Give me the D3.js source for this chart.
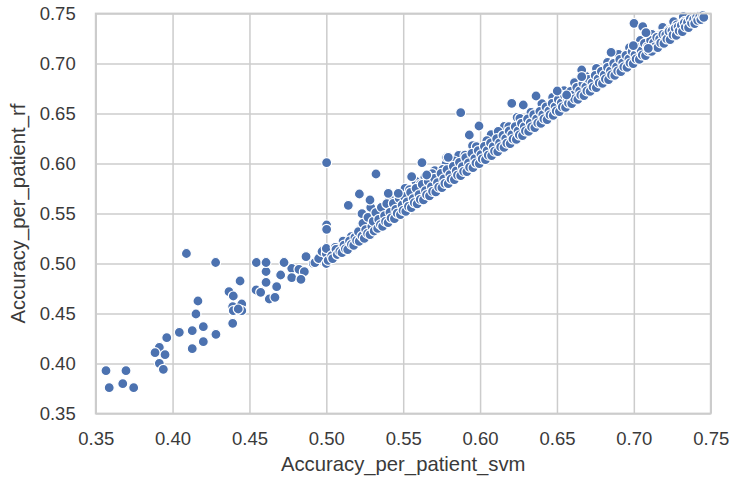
<!DOCTYPE html>
<html>
<head>
<meta charset="utf-8">
<script src="https://cdn.jsdelivr.net/npm/d3@7"></script>
<style>
  html, body { margin: 0; padding: 0; background: #ffffff; }
  svg { display: block; }
</style>
</head>
<body>
<svg id="chart" width="730" height="478"></svg>
<script>
// ---- Data (svm accuracy, rf accuracy) ----
const xTicks = [0.35, 0.40, 0.45, 0.50, 0.55, 0.60, 0.65, 0.70, 0.75];
const yTicks = [0.35, 0.40, 0.45, 0.50, 0.55, 0.60, 0.65, 0.70, 0.75];
const xLabel = "Accuracy_per_patient_svm";
const yLabel = "Accuracy_per_patient_rf";

const lowCluster = [
  [0.3567,0.3928],[0.3697,0.3928],[0.3588,0.3758],[0.3676,0.3798],[0.3747,0.3758],
  [0.3914,0.4002],[0.3940,0.3942],[0.3914,0.4162],[0.3886,0.4108],[0.3951,0.4088],
  [0.3962,0.4258],[0.4044,0.4312],[0.4128,0.4328],[0.4200,0.4368],[0.4128,0.4148],
  [0.4200,0.4218],[0.4282,0.4292],[0.4152,0.4495],[0.4165,0.4625],[0.4391,0.4402],
  [0.4391,0.4568],[0.4450,0.4595],[0.4395,0.4528],[0.4450,0.4528],[0.4427,0.4545],
  [0.4367,0.4718],[0.4395,0.4675],[0.4439,0.4825],[0.4543,0.4735],[0.4573,0.4712],
  [0.4629,0.4645],[0.4666,0.4662],[0.4608,0.4812],[0.4677,0.4768],[0.4608,0.4920],
  [0.4703,0.4885],[0.4775,0.4952],[0.4822,0.4942],[0.4857,0.4918],[0.4775,0.4858],
  [0.4835,0.4842],[0.4545,0.5010],[0.4608,0.5010],[0.4725,0.5010],[0.4868,0.5070],
  [0.4915,0.5002],[0.4926,0.5008],[0.4868,0.5068],[0.4090,0.5100],[0.4280,0.5010],
  [0.4950,0.5050],[0.4972,0.5120],[0.5000,0.5000],[0.5000,0.5100],[0.5000,0.5150]
];

const outliers = [
  [0.5002,0.6008],[0.5323,0.5895],[0.5622,0.6008],[0.5143,0.5582],[0.5215,0.5695],
  [0.5002,0.5385],[0.5002,0.5342],[0.5874,0.6508],[0.5993,0.6375],[0.5930,0.6285],
  [0.6206,0.6602],[0.6281,0.6585],[0.6364,0.6675],[0.6502,0.6725],[0.6563,0.6685],
  [0.6852,0.7112],[0.6661,0.6935],[0.6661,0.6868],[0.7001,0.7402],[0.7058,0.7368],
  [0.7079,0.7308],[0.6997,0.7178],[0.7094,0.7152],[0.5783,0.6062],[0.5793,0.6062],
  [0.5555,0.5868],[0.5653,0.5885],[0.5403,0.5702],[0.5468,0.5702],[0.5284,0.5635]
];

const band = [
  [0.5012,0.5031],[0.5035,0.5078],[0.5041,0.5049],[0.5063,0.5142],[0.5071,0.5090],[0.5088,0.5121],
  [0.5102,0.5108],[0.5115,0.5183],[0.5124,0.5147],[0.5139,0.5139],[0.5151,0.5226],[0.5163,0.5192],
  [0.5178,0.5181],[0.5186,0.5262],[0.5197,0.5231],[0.5209,0.5318],[0.5214,0.5222],[0.5232,0.5275],
  [0.5238,0.5402],[0.5247,0.5251],[0.5256,0.5339],[0.5268,0.5301],[0.5271,0.5462],[0.5284,0.5289],
  [0.5296,0.5372],[0.5305,0.5421],[0.5311,0.5325],[0.5322,0.5508],[0.5334,0.5351],[0.5341,0.5441],
  [0.5352,0.5389],[0.5358,0.5562],[0.5366,0.5372],[0.5379,0.5478],[0.5385,0.5421],[0.5393,0.5598],
  [0.5402,0.5409],[0.5414,0.5512],[0.5421,0.5455],[0.5436,0.5601],[0.5443,0.5448],[0.5452,0.5541],
  [0.5461,0.5503],[0.5474,0.5652],[0.5482,0.5489],[0.5493,0.5585],[0.5499,0.5531],[0.5508,0.5668],
  [0.5517,0.5521],[0.5526,0.5617],[0.5534,0.5572],[0.5548,0.5712],[0.5553,0.5559],[0.5565,0.5649],
  [0.5572,0.5608],[0.5584,0.5752],[0.5591,0.5597],[0.5603,0.5689],[0.5611,0.5642],[0.5624,0.5791],
  [0.5632,0.5636],[0.5645,0.5728],[0.5652,0.5688],[0.5663,0.5821],[0.5671,0.5677],[0.5684,0.5768],
  [0.5691,0.5722],[0.5703,0.5852],[0.5712,0.5716],[0.5723,0.5809],[0.5731,0.5764],[0.5746,0.5901],
  [0.5752,0.5758],[0.5764,0.5846],[0.5771,0.5802],[0.5785,0.5938],[0.5793,0.5798],[0.5804,0.5888],
  [0.5811,0.5845],[0.5826,0.5972],[0.5833,0.5839],[0.5845,0.5926],[0.5853,0.5884],[0.5866,0.6012],
  [0.5874,0.5878],[0.5885,0.5969],[0.5893,0.5922],[0.5907,0.6059],[0.5914,0.5919],[0.5925,0.6006],
  [0.5932,0.5963],[0.5947,0.6101],[0.5954,0.5958],[0.5966,0.6048],[0.5973,0.6005],[0.5988,0.6129],
  [0.5995,0.5999],[0.6006,0.6088],[0.6014,0.6046],[0.6028,0.6172],[0.6035,0.6039],[0.6046,0.6128],
  [0.6053,0.6084],[0.6068,0.6205],[0.6075,0.6079],[0.6086,0.6168],[0.6094,0.6124],[0.6108,0.6248],
  [0.6115,0.6119],[0.6127,0.6206],[0.6134,0.6166],[0.6149,0.6282],[0.6156,0.6161],[0.6167,0.6249],
  [0.6174,0.6204],[0.6189,0.6325],[0.6196,0.6199],[0.6207,0.6289],[0.6214,0.6245],[0.6229,0.6368],
  [0.6236,0.6241],[0.6247,0.6326],[0.6255,0.6285],[0.6269,0.6402],[0.6276,0.6279],[0.6288,0.6368],
  [0.6295,0.6326],[0.6309,0.6445],[0.6316,0.6321],[0.6327,0.6407],[0.6335,0.6366],[0.6349,0.6488],
  [0.6356,0.6359],[0.6368,0.6447],[0.6375,0.6405],[0.6389,0.6522],[0.6396,0.6401],[0.6408,0.6488],
  [0.6415,0.6446],[0.6429,0.6565],[0.6436,0.6439],[0.6448,0.6527],[0.6455,0.6486],[0.6469,0.6602],
  [0.6476,0.6481],[0.6488,0.6566],[0.6495,0.6525],[0.6509,0.6641],[0.6516,0.6519],[0.6528,0.6607],
  [0.6535,0.6566],[0.6549,0.6682],[0.6556,0.6561],[0.6568,0.6646],[0.6575,0.6605],[0.6589,0.6721],
  [0.6596,0.6599],[0.6608,0.6687],[0.6615,0.6646],[0.6629,0.6762],[0.6636,0.6641],[0.6648,0.6726],
  [0.6655,0.6685],[0.6669,0.6801],[0.6676,0.6679],[0.6688,0.6767],[0.6695,0.6726],[0.6709,0.6842],
  [0.6716,0.6721],[0.6728,0.6806],[0.6735,0.6765],[0.6749,0.6881],[0.6756,0.6759],[0.6768,0.6847],
  [0.6775,0.6806],[0.6789,0.6922],[0.6796,0.6801],[0.6808,0.6886],[0.6815,0.6845],[0.6829,0.6961],
  [0.6836,0.6839],[0.6848,0.6927],[0.6855,0.6886],[0.6869,0.7002],[0.6876,0.6881],[0.6888,0.6966],
  [0.6895,0.6925],[0.6909,0.7041],[0.6916,0.6919],[0.6928,0.7007],[0.6935,0.6966],[0.6949,0.7082],
  [0.6956,0.6961],[0.6968,0.7046],[0.6975,0.7005],[0.6989,0.7121],[0.6996,0.6999],[0.7008,0.7087],
  [0.7015,0.7046],[0.7029,0.7162],[0.7036,0.7041],[0.7048,0.7126],[0.7055,0.7085],[0.7069,0.7201],
  [0.7076,0.7079],[0.7088,0.7167],[0.7095,0.7126],[0.7109,0.7232],[0.7116,0.7121],[0.7128,0.7206],
  [0.7135,0.7165],[0.7149,0.7262],[0.7156,0.7159],[0.7168,0.7247],[0.7175,0.7206],[0.7189,0.7292],
  [0.7196,0.7201],[0.7208,0.7286],[0.7215,0.7245],[0.7229,0.7321],[0.7236,0.7239],[0.7248,0.7327],
  [0.7255,0.7286],[0.7269,0.7352],[0.7276,0.7281],[0.7288,0.7366],[0.7295,0.7325],[0.7309,0.7382],
  [0.7316,0.7319],[0.7328,0.7407],[0.7335,0.7366],[0.7349,0.7412],[0.7356,0.7359],[0.7368,0.7446],
  [0.7375,0.7405],[0.7389,0.7442],[0.7396,0.7399],[0.7408,0.7462],[0.7415,0.7432],[0.7429,0.7472],
  [0.7436,0.7439],[0.7448,0.7478],[0.7455,0.7462]
];

const midBand = [
  [0.5058,0.5161],[0.5109,0.5224],[0.5162,0.5268],[0.5214,0.5332],[0.5263,0.5392],[0.5317,0.5442],
  [0.5369,0.5498],[0.5418,0.5552],[0.5471,0.5593],[0.5522,0.5648],[0.5574,0.5689],[0.5626,0.5751],
  [0.5677,0.5798],[0.5729,0.5845],[0.5781,0.5906],[0.5832,0.5951],[0.5884,0.6008],[0.5935,0.6062],
  [0.5987,0.6101],[0.6038,0.6159],[0.6091,0.6208],[0.6142,0.6262],[0.6194,0.6311],[0.6246,0.6368],
  [0.6297,0.6415],[0.6349,0.6463],[0.6401,0.6522],[0.6452,0.6568],[0.6504,0.6621],[0.6556,0.6672],
  [0.6607,0.6721],[0.6659,0.6778],[0.6711,0.6825],[0.6762,0.6876],[0.6814,0.6931],[0.6866,0.6978],
  [0.6917,0.7031],[0.6969,0.7082],[0.7021,0.7129],[0.7072,0.7186],[0.7124,0.7231],[0.7176,0.7288],
  [0.7227,0.7334],[0.7279,0.7385],[0.7331,0.7421],[0.7382,0.7462]
];

const upperBand = [
  [0.5232,0.5498],[0.5289,0.5561],[0.5348,0.5532],[0.5412,0.5648],[0.5478,0.5701],[0.5512,0.5752],
  [0.5583,0.5821],[0.5641,0.5862],[0.5705,0.5928],[0.5779,0.5998],[0.5861,0.6082],[0.5951,0.6178],
  [0.6072,0.6288],[0.6158,0.6372],[0.6241,0.6462],
  [0.5541,0.5738],[0.5612,0.5795],[0.5689,0.5898],[0.5758,0.5942],[0.5831,0.6025],[0.5902,0.6084],
  [0.5976,0.6169],[0.6044,0.6228],[0.6118,0.6321],[0.6187,0.6368],[0.6259,0.6452],[0.6331,0.6512],
  [0.6402,0.6598],[0.6472,0.6661],[0.6546,0.6728],[0.6614,0.6809],[0.6688,0.6872],[0.6757,0.6951],
  [0.6829,0.7012],[0.6901,0.7092],[0.6972,0.7158],[0.7043,0.7231],[0.7117,0.7292],[0.7188,0.7361],
  [0.7259,0.7418],[0.7322,0.7468]
];

// ---- Layout ----
const svg = d3.select("#chart");
const mLeft = 95.7, mRight = 710.7, mTop = 13.5, mBottom = 413.5;
const x = d3.scaleLinear().domain([0.35, 0.75]).range([mLeft, mRight]);
const y = d3.scaleLinear().domain([0.35, 0.75]).range([mBottom, mTop]);
const fontFam = "'Liberation Sans', Arial, sans-serif";
const gridColor = "#cccccc";
const textColor = "#3a3a3a";

// grid via axes
const gx = svg.append("g")
  .attr("transform", `translate(0,${mBottom})`)
  .call(d3.axisBottom(x).tickValues(xTicks).tickFormat(d3.format(".2f"))
        .tickSize(-(mBottom - mTop)).tickPadding(18));
const gy = svg.append("g")
  .attr("transform", `translate(${mLeft},0)`)
  .call(d3.axisLeft(y).tickValues(yTicks).tickFormat(d3.format(".2f"))
        .tickSize(-(mRight - mLeft)).tickPadding(20));

[gx, gy].forEach(g => {
  g.select(".domain").remove();
  g.selectAll(".tick line").attr("stroke", gridColor).attr("stroke-width", 1.5);
  g.selectAll(".tick text")
    .attr("fill", textColor)
    .style("font-family", fontFam)
    .style("font-size", "18.5px");
});
gy.selectAll(".tick text").attr("dy", "0.35em");

// points
const allPoints = lowCluster.concat(upperBand, midBand, band, outliers);
svg.append("g").selectAll("circle")
  .data(allPoints)
  .join("circle")
  .attr("cx", d => x(d[0]))
  .attr("cy", d => y(d[1]))
  .attr("r", 5)
  .attr("fill", "#4c72b0")
  .attr("stroke", "#ffffff")
  .attr("stroke-width", 1.2);

// frame
svg.append("rect")
  .attr("x", mLeft).attr("y", mTop)
  .attr("width", mRight - mLeft).attr("height", mBottom - mTop)
  .attr("fill", "none").attr("stroke", gridColor).attr("stroke-width", 1.8);

// axis labels
svg.append("text")
  .attr("x", (mLeft + mRight) / 2).attr("y", 471)
  .attr("text-anchor", "middle")
  .attr("fill", textColor)
  .style("font-family", fontFam).style("font-size", "20.3px")
  .text(xLabel);
svg.append("text")
  .attr("transform", `translate(25,${(mTop + mBottom) / 2}) rotate(-90)`)
  .attr("text-anchor", "middle")
  .attr("fill", textColor)
  .style("font-family", fontFam).style("font-size", "20.3px")
  .text(yLabel);
</script>
</body>
</html>
